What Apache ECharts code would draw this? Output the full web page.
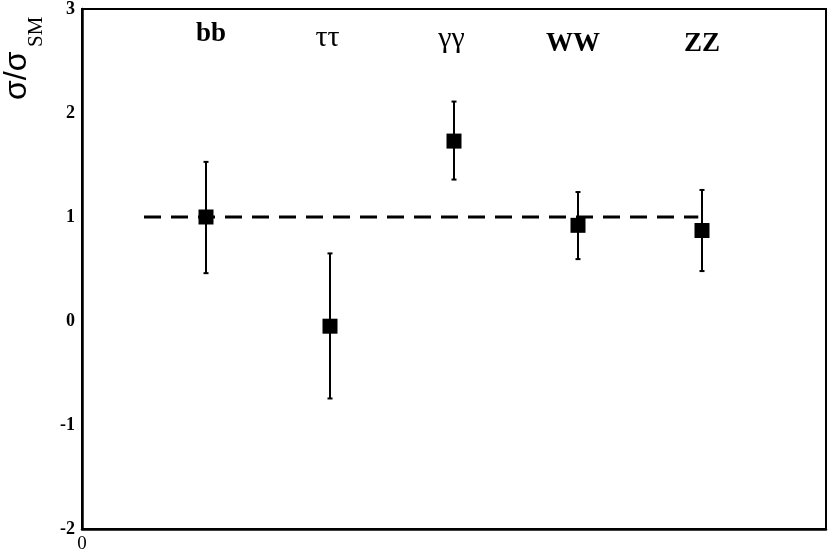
<!DOCTYPE html>
<html>
<head>
<meta charset="utf-8">
<style>
  html, body { margin: 0; padding: 0; background: #fff; }
  #chart { width: 830px; height: 554px; }
</style>
<script src="https://cdn.jsdelivr.net/npm/echarts@6/dist/echarts.min.js"></script>
</head>
<body>
<div id="chart"></div>
<script>
// decay channels and measured signal strengths
const channels = ['bb', 'ττ', 'γγ', 'WW', 'ZZ'];
const channelX = [1, 2, 3, 4, 5];
const ratio = [1.0, -0.05, 1.73, 0.92, 0.87];
const errLow = [0.46, -0.745, 1.36, 0.595, 0.48];
const errHigh = [1.53, 0.65, 2.11, 1.24, 1.26];
const smLine = [[0.5, 1], [4.97, 1]];
const yTicks = [-2, -1, 0, 1, 2, 3];

// where the channel names sit (data units)
const labelX = [1.04, 1.98, 2.98, 3.96, 5.0];
const labelY = [2.76, 2.72, 2.71, 2.66, 2.66];
const greek = [false, true, true, false, false];

const chart = echarts.init(document.getElementById('chart'));

const points = channelX.map((x, i) => [x, ratio[i]]);
const bars = channelX.map((x, i) => [x, errLow[i], errHigh[i]]);
const names = channels.map((c, i) => ({
  value: [labelX[i], labelY[i]],
  name: c,
  label: greek[i]
    ? { fontWeight: 'normal', fontSize: 30 }
    : { fontWeight: 'bold', fontSize: 27 }
}));

function renderErr(params, api) {
  const x = api.value(0);
  const top = api.coord([x, api.value(2)]);
  const bot = api.coord([x, api.value(1)]);
  const style = { stroke: '#000', lineWidth: 2 };
  return {
    type: 'group',
    children: [
      { type: 'line', shape: { x1: top[0], y1: top[1], x2: bot[0], y2: bot[1] }, style: style },
      { type: 'line', shape: { x1: top[0] - 2.5, y1: top[1], x2: top[0] + 2.5, y2: top[1] }, style: style },
      { type: 'line', shape: { x1: bot[0] - 2.5, y1: bot[1], x2: bot[0] + 2.5, y2: bot[1] }, style: style }
    ]
  };
}

const option = {
  animation: false,
  backgroundColor: '#fff',
  grid: {
    left: 82, right: 4, top: 9, bottom: 25,
    show: true, borderColor: '#000', borderWidth: 2
  },
  xAxis: {
    type: 'value', min: 0, max: 6, interval: 6,
    axisLine: { onZero: false, lineStyle: { color: '#000', width: 2.5 } },
    axisTick: { show: false },
    splitLine: { show: false },
    axisLabel: {
      color: '#000', fontFamily: 'Liberation Serif', fontSize: 19, margin: 6,
      formatter: v => (v === 0 ? '0' : '')
    }
  },
  yAxis: {
    type: 'value', min: yTicks[0], max: yTicks[yTicks.length - 1], interval: 1,
    axisLine: { onZero: false, lineStyle: { color: '#000', width: 2.5 } },
    axisTick: { show: false },
    splitLine: { show: false },
    axisLabel: {
      color: '#000', fontFamily: 'Liberation Serif', fontWeight: 'bold', fontSize: 18, margin: 7
    }
  },
  graphic: [
    {
      type: 'text', x: 17, y: 100, rotation: Math.PI / 2,
      style: {
        text: 'σ/σ', fill: '#000', font: '32px "Liberation Sans"',
        align: 'left', verticalAlign: 'middle'
      }
    },
    {
      type: 'text', x: 36, y: 47, rotation: Math.PI / 2,
      style: {
        text: 'SM', fill: '#000', font: '21px "Liberation Serif"',
        align: 'left', verticalAlign: 'middle'
      }
    }
  ],
  series: [
    {
      type: 'line',
      data: smLine,
      symbol: 'none',
      lineStyle: { color: '#000', width: 3, type: [17, 10] },
      z: 2
    },
    {
      type: 'custom',
      data: bars,
      renderItem: renderErr,
      z: 3
    },
    {
      type: 'scatter',
      data: points,
      symbol: 'rect',
      symbolSize: 15,
      itemStyle: { color: '#000', opacity: 1 },
      z: 4
    },
    {
      type: 'scatter',
      data: names,
      symbolSize: 0,
      itemStyle: { opacity: 1 },
      label: {
        show: true, position: 'inside', color: '#000',
        fontFamily: 'Liberation Serif',
        formatter: p => p.name
      },
      z: 5
    }
  ]
};

chart.setOption(option);
</script>
</body>
</html>
